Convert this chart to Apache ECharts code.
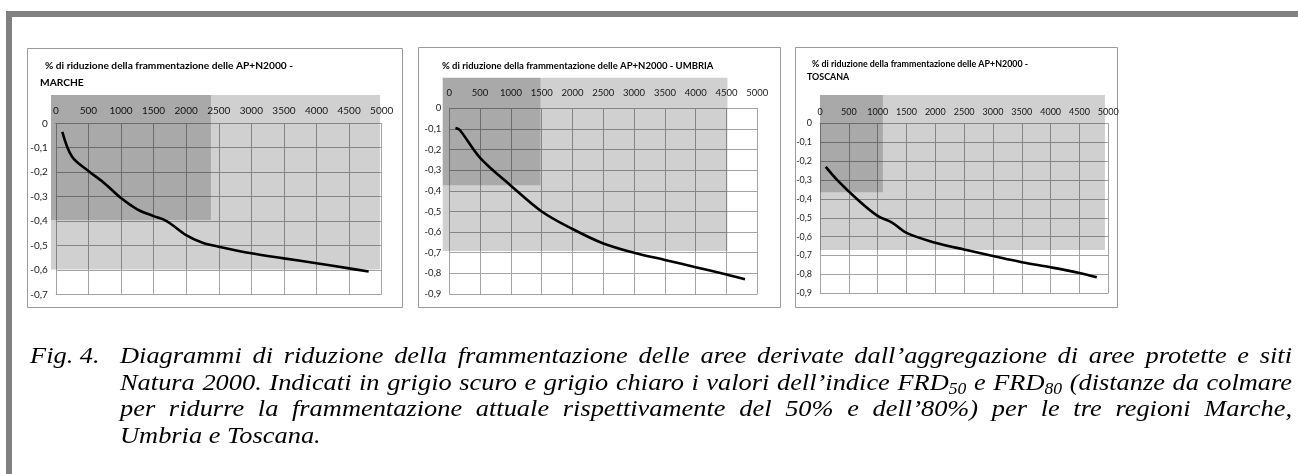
<!DOCTYPE html>
<html>
<head>
<meta charset="utf-8">
<script src="https://cdn.jsdelivr.net/npm/echarts@6/dist/echarts.min.js"></script>
<style>
  html, body { margin:0; padding:0; background:#fff; }
  #wrap { position:relative; width:1298px; height:474px; overflow:hidden; }
  #chart { position:absolute; left:0; top:0; width:1298px; height:474px; }
  #cap { position:absolute; left:0; top:342px; width:1298px; font-family:'Liberation Serif','Times New Roman',serif; font-style:italic; font-size:24px; line-height:26.6px; color:#000; }
  #cap .fig { position:absolute; left:30px; top:0; transform:scaleX(1.1); transform-origin:0 0; }
  #cap .body { position:absolute; left:120px; top:0; width:1065.5px; transform:scaleX(1.1); transform-origin:0 0; }
  #cap .ln { text-align:justify; text-align-last:justify; white-space:nowrap; }
  #cap .ln.last { text-align-last:left; }
  #cap sub { font-size:16px; vertical-align:-4px; line-height:0; }
</style>
</head>
<body>
<div id="wrap">
  <div id="chart"></div>
  <div id="cap">
    <div class="fig">Fig. 4.</div>
    <div class="body">
      <div class="ln">Diagrammi di riduzione della frammentazione delle aree derivate dall’aggregazione di aree protette e siti</div>
      <div class="ln">Natura 2000. Indicati in grigio scuro e grigio chiaro i valori dell’indice FRD<sub>50</sub> e FRD<sub>80</sub> (distanze da colmare</div>
      <div class="ln">per ridurre la frammentazione attuale rispettivamente del 50% e dell’80%) per le tre regioni Marche,</div>
      <div class="ln last">Umbria e Toscana.</div>
    </div>
  </div>
</div>
<script>
// ---- data ----
const regions = ['MARCHE', 'UMBRIA', 'TOSCANA'];
const titleMain = '% di riduzione della frammentazione delle AP+N2000 -';

const marcheX = [100, 250, 500, 750, 1000, 1250, 1500, 1700, 2000, 2250, 2500, 3000, 3500, 4000, 4500, 4800];
const marcheY = [-0.035, -0.137, -0.195, -0.246, -0.306, -0.352, -0.38, -0.40, -0.458, -0.489, -0.505, -0.532, -0.553, -0.573, -0.594, -0.607];

const umbriaX = [100, 170, 500, 1000, 1500, 2000, 2500, 3000, 3500, 4000, 4500, 4800];
const umbriaY = [-0.095, -0.105, -0.24, -0.375, -0.5, -0.585, -0.655, -0.70, -0.735, -0.77, -0.805, -0.828];

const toscanaX = [100, 300, 640, 1000, 1250, 1500, 2000, 2500, 3000, 3500, 4000, 4500, 4800];
const toscanaY = [-0.23, -0.30, -0.40, -0.49, -0.525, -0.58, -0.632, -0.668, -0.702, -0.735, -0.762, -0.792, -0.815];

// FRD50 (dark grey) and FRD80 (light grey) boxes: [distance, level]
const frd50 = [2380, 1480, 1090];
const frd50Level = [-0.396, -0.373, -0.364];
const frd80 = [4975, 4515, 4942];
const frd80Level = [-0.598, -0.691, -0.67];

const yMin = [-0.7, -0.9, -0.9];
const xMax = 5000;
const xStep = 500;
const yStep = 0.1;

// ---- layout ----
const grids = [
  {left: 55.8, top: 123.3, width: 325.9, height: 171},
  {left: 449.3, top: 108.3, width: 308, height: 185.7},
  {left: 820, top: 123.5, width: 288.3, height: 169.8}
];
const shadePad = [[4.8, 28.3], [6.6, 30.6], [0, 28.5]];
const xLabelMargin = [8, 10, 7];
const labelSize = [10, 9.5, 9];
const titleSize = [10.2, 9.5, 8.9];
const boxes = [[27, 48, 402, 307], [418, 47, 780, 307], [795, 47, 1117, 307]];

const labelFont = 'Lato, Roboto, sans-serif';
const gridColor = '#a3a3a3';

const xAxes = [], yAxes = [], series = [];
const lines = [[marcheX, marcheY], [umbriaX, umbriaY], [toscanaX, toscanaY]];

for (let i = 0; i < 3; i++) {
  xAxes.push({
    type: 'value', gridIndex: i, position: 'top', min: 0, max: xMax, interval: xStep,
    axisLine: {show: true, onZero: false, lineStyle: {color: gridColor, width: 1}},
    axisTick: {show: false},
    splitLine: {show: true, lineStyle: {color: gridColor, width: 1}},
    axisLabel: {fontFamily: labelFont, fontSize: labelSize[i], color: '#222', margin: xLabelMargin[i],
      formatter: v => String(Math.round(v))}
  });
  yAxes.push({
    type: 'value', gridIndex: i, min: yMin[i], max: 0, interval: yStep,
    axisLine: {show: true, onZero: false, lineStyle: {color: gridColor, width: 1}},
    axisTick: {show: false},
    splitLine: {show: true, lineStyle: {color: gridColor, width: 1}},
    axisLabel: {
      fontFamily: labelFont, fontSize: labelSize[i], color: '#222', margin: 8,
      formatter: v => (Math.abs(v) < 1e-9 ? '0' : v.toFixed(1).replace('.', ','))
    }
  });
  const pad = shadePad[i];
  series.push({
    type: 'custom', xAxisIndex: i, yAxisIndex: i, clip: false, z: 3, silent: true,
    data: [[frd80[i], frd80Level[i]], [frd50[i], frd50Level[i]]],
    renderItem: function (params, api) {
      const p = api.coord([api.value(0), api.value(1)]);
      const o = api.coord([0, 0]);
      const x0 = o[0] - pad[0];
      const y0 = o[1] - pad[1];
      return {
        type: 'rect',
        shape: {x: x0, y: y0, width: p[0] - x0, height: p[1] - y0},
        style: {fill: 'rgba(0,0,0,0.185)'}
      };
    }
  });
  const d = lines[i][0].map((x, k) => [x, lines[i][1][k]]);
  series.push({
    type: 'line', xAxisIndex: i, yAxisIndex: i, data: d, smooth: 0.35,
    symbol: 'none', z: 2, silent: true,
    lineStyle: {color: '#000', width: 2.6}
  });
}

const graphic = [
  {type: 'rect', shape: {x: 6, y: 11, width: 1292, height: 6}, style: {fill: '#808080'}},
  {type: 'rect', shape: {x: 6, y: 11, width: 6, height: 463}, style: {fill: '#808080'}}
];
boxes.forEach(b => {
  graphic.push({type: 'rect', shape: {x: b[0] + 0.5, y: b[1] + 0.5, width: b[2] - b[0], height: b[3] - b[1]},
    style: {fill: 'none', stroke: '#9a9a9a', lineWidth: 1}});
});
const ts = i => ({fontFamily: labelFont, fontWeight: 'bold', fontSize: titleSize[i], fill: '#000'});
graphic.push({type: 'text', x: 45, y: 60.5, style: Object.assign({text: titleMain}, ts(0))});
graphic.push({type: 'text', x: 40, y: 77.5, style: Object.assign({text: regions[0]}, ts(0))});
graphic.push({type: 'text', x: 442, y: 60.5, style: Object.assign({text: titleMain + ' ' + regions[1]}, ts(1))});
graphic.push({type: 'text', x: 812, y: 59.5, style: Object.assign({text: titleMain}, ts(2))});
graphic.push({type: 'text', x: 807, y: 72.5, style: Object.assign({text: regions[2]}, ts(2))});

const chart = echarts.init(document.getElementById('chart'), null, {renderer: 'canvas'});
chart.setOption({
  animation: false,
  backgroundColor: '#fff',
  grid: grids.map(g => Object.assign({containLabel: false}, g)),
  xAxis: xAxes,
  yAxis: yAxes,
  series: series,
  graphic: graphic
});
</script>
</body>
</html>
